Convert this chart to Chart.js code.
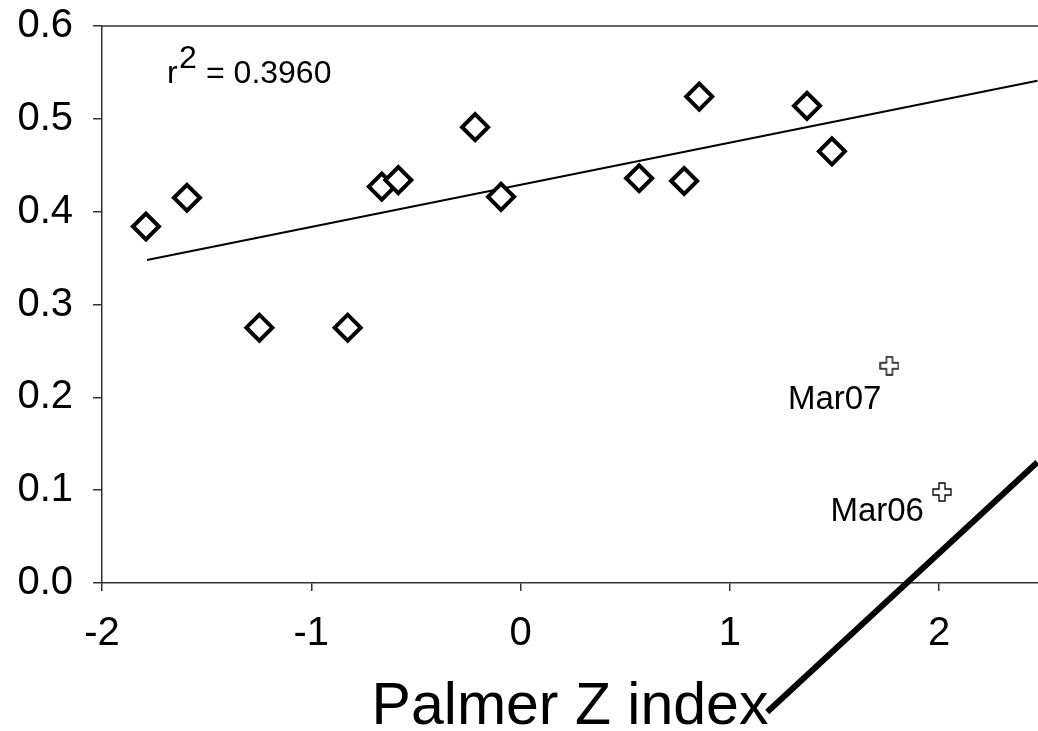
<!DOCTYPE html>
<html>
<head>
<meta charset="utf-8">
<script src="https://cdn.jsdelivr.net/npm/chart.js@4.4.1/dist/chart.umd.min.js"></script>
<style>
  html, body { margin: 0; padding: 0; background: #fff; }
  #wrap { width: 1038px; height: 731px; }
</style>
</head>
<body>
<div id="wrap"><canvas id="chart" width="1038" height="731"></canvas></div>
<script>
// main scatter (Palmer Z index vs value)
const zIndex = [-1.790, -1.594, -1.248, -0.826, -0.663, -0.584, -0.217, -0.093, 0.567, 0.782, 0.854, 1.369, 1.488];
const values = [0.384, 0.415, 0.275, 0.275, 0.427, 0.434, 0.491, 0.416, 0.436, 0.433, 0.524, 0.514, 0.465];

// regression line end points
const trendX = [-1.785, 2.47];
const trendY = [0.348, 0.541];
const r2Text = '0.3960';

// labelled outliers
const outlierNames = ['Mar07', 'Mar06'];
const outlierX = [1.763, 2.014];
const outlierY = [0.234, 0.098];

// stray pointer line (data units)
const pointerX = [1.179, 2.47];
const pointerY = [-0.139, 0.130];

const xTicks = [-2, -1, 0, 1, 2];
const yTicks = [0, 0.1, 0.2, 0.3, 0.4, 0.5, 0.6];

const FONT = '"Liberation Sans", Arial, sans-serif';
const AXIS = '#333';

// hollow plus marker for the outliers
function plusMarker() {
  const c = document.createElement('canvas');
  c.width = 20; c.height = 20;
  const g = c.getContext('2d');
  const a = 3, b = 9; // half arm width, half length
  g.beginPath();
  g.moveTo(10 - a, 10 - b); g.lineTo(10 + a, 10 - b); g.lineTo(10 + a, 10 - a);
  g.lineTo(10 + b, 10 - a); g.lineTo(10 + b, 10 + a); g.lineTo(10 + a, 10 + a);
  g.lineTo(10 + a, 10 + b); g.lineTo(10 - a, 10 + b); g.lineTo(10 - a, 10 + a);
  g.lineTo(10 - b, 10 + a); g.lineTo(10 - b, 10 - a); g.lineTo(10 - a, 10 - a);
  g.closePath();
  g.fillStyle = '#fff'; g.fill();
  g.lineWidth = 1.3; g.strokeStyle = '#000'; g.stroke();
  return c;
}

function noPad(s) {
  s.paddingLeft = 0; s.paddingRight = 0; s.paddingTop = 0; s.paddingBottom = 0;
}

const extras = {
  id: 'extras',
  afterDraw(chart) {
    const ctx = chart.ctx;
    const {left, right, top} = chart.chartArea;
    const xs = chart.scales.x, ys = chart.scales.y;
    ctx.save();
    // top frame
    ctx.strokeStyle = AXIS; ctx.lineWidth = 1.5;
    ctx.beginPath(); ctx.moveTo(left, top); ctx.lineTo(right, top); ctx.stroke();

    // r^2 text
    ctx.fillStyle = '#000';
    ctx.font = '32px ' + FONT;
    ctx.textBaseline = 'alphabetic';
    ctx.textAlign = 'left';
    ctx.fillText('r', left + 65, top + 57);
    ctx.fillText('2', left + 77, top + 42);
    ctx.fillText('= ' + r2Text, left + 104, top + 57);

    // outlier labels
    ctx.font = '33px ' + FONT;
    ctx.textAlign = 'right';
    const offs = [[-8, 43], [-18, 29]];
    chart.getDatasetMeta(2).data.forEach((pt, i) => {
      ctx.fillText(outlierNames[i], pt.x + offs[i][0], pt.y + offs[i][1]);
    });

    // pointer line
    ctx.strokeStyle = '#000'; ctx.lineWidth = 6;
    ctx.beginPath();
    ctx.moveTo(xs.getPixelForValue(pointerX[0]), ys.getPixelForValue(pointerY[0]));
    ctx.lineTo(xs.getPixelForValue(pointerX[1]), ys.getPixelForValue(pointerY[1]));
    ctx.stroke();
    ctx.restore();
  }
};

new Chart(document.getElementById('chart'), {
  type: 'scatter',
  data: {
    datasets: [
      {
        type: 'line',
        data: trendX.map((x, i) => ({x, y: trendY[i]})),
        borderColor: '#000', borderWidth: 2, pointRadius: 0, fill: false, order: 3
      },
      {
        data: zIndex.map((x, i) => ({x, y: values[i]})),
        pointStyle: 'rectRot', pointRadius: 13, pointBorderWidth: 4,
        pointBorderColor: '#000', pointBackgroundColor: '#fff', order: 1
      },
      {
        data: outlierX.map((x, i) => ({x, y: outlierY[i]})),
        pointStyle: plusMarker(), pointRadius: 10, order: 2
      }
    ]
  },
  options: {
    responsive: false,
    animation: false,
    layout: { autoPadding: false, padding: { top: 26, right: 0, left: 0, bottom: 0 } },
    plugins: { legend: { display: false }, tooltip: { enabled: false } },
    scales: {
      x: {
        type: 'linear', min: -2, max: 2.473,
        afterBuildTicks: s => { s.ticks = xTicks.map(v => ({value: v})); },
        afterFit: s => { s.height = 148; noPad(s); },
        border: { display: true, color: AXIS, width: 1.5 },
        grid: { drawOnChartArea: false, drawTicks: true, tickLength: 8, color: AXIS, lineWidth: 1.5 },
        ticks: { color: '#000', padding: 19, font: { family: FONT, size: 40 }, maxRotation: 0 },
        title: { display: true, text: 'Palmer Z index', color: '#000',
                 font: { family: FONT, size: 59, lineHeight: 1 }, padding: { top: 0, bottom: -6 } }
      },
      y: {
        min: 0, max: 0.6,
        afterBuildTicks: s => { s.ticks = yTicks.map(v => ({value: v})); },
        afterFit: s => { s.width = 102; noPad(s); },
        border: { display: true, color: AXIS, width: 1.5 },
        grid: { drawOnChartArea: false, drawTicks: true, tickLength: 9, color: AXIS, lineWidth: 1.5 },
        ticks: { color: '#000', padding: 20, font: { family: FONT, size: 40 },
                 callback: v => Number(v).toFixed(1) }
      }
    }
  },
  plugins: [extras]
});
</script>
</body>
</html>
